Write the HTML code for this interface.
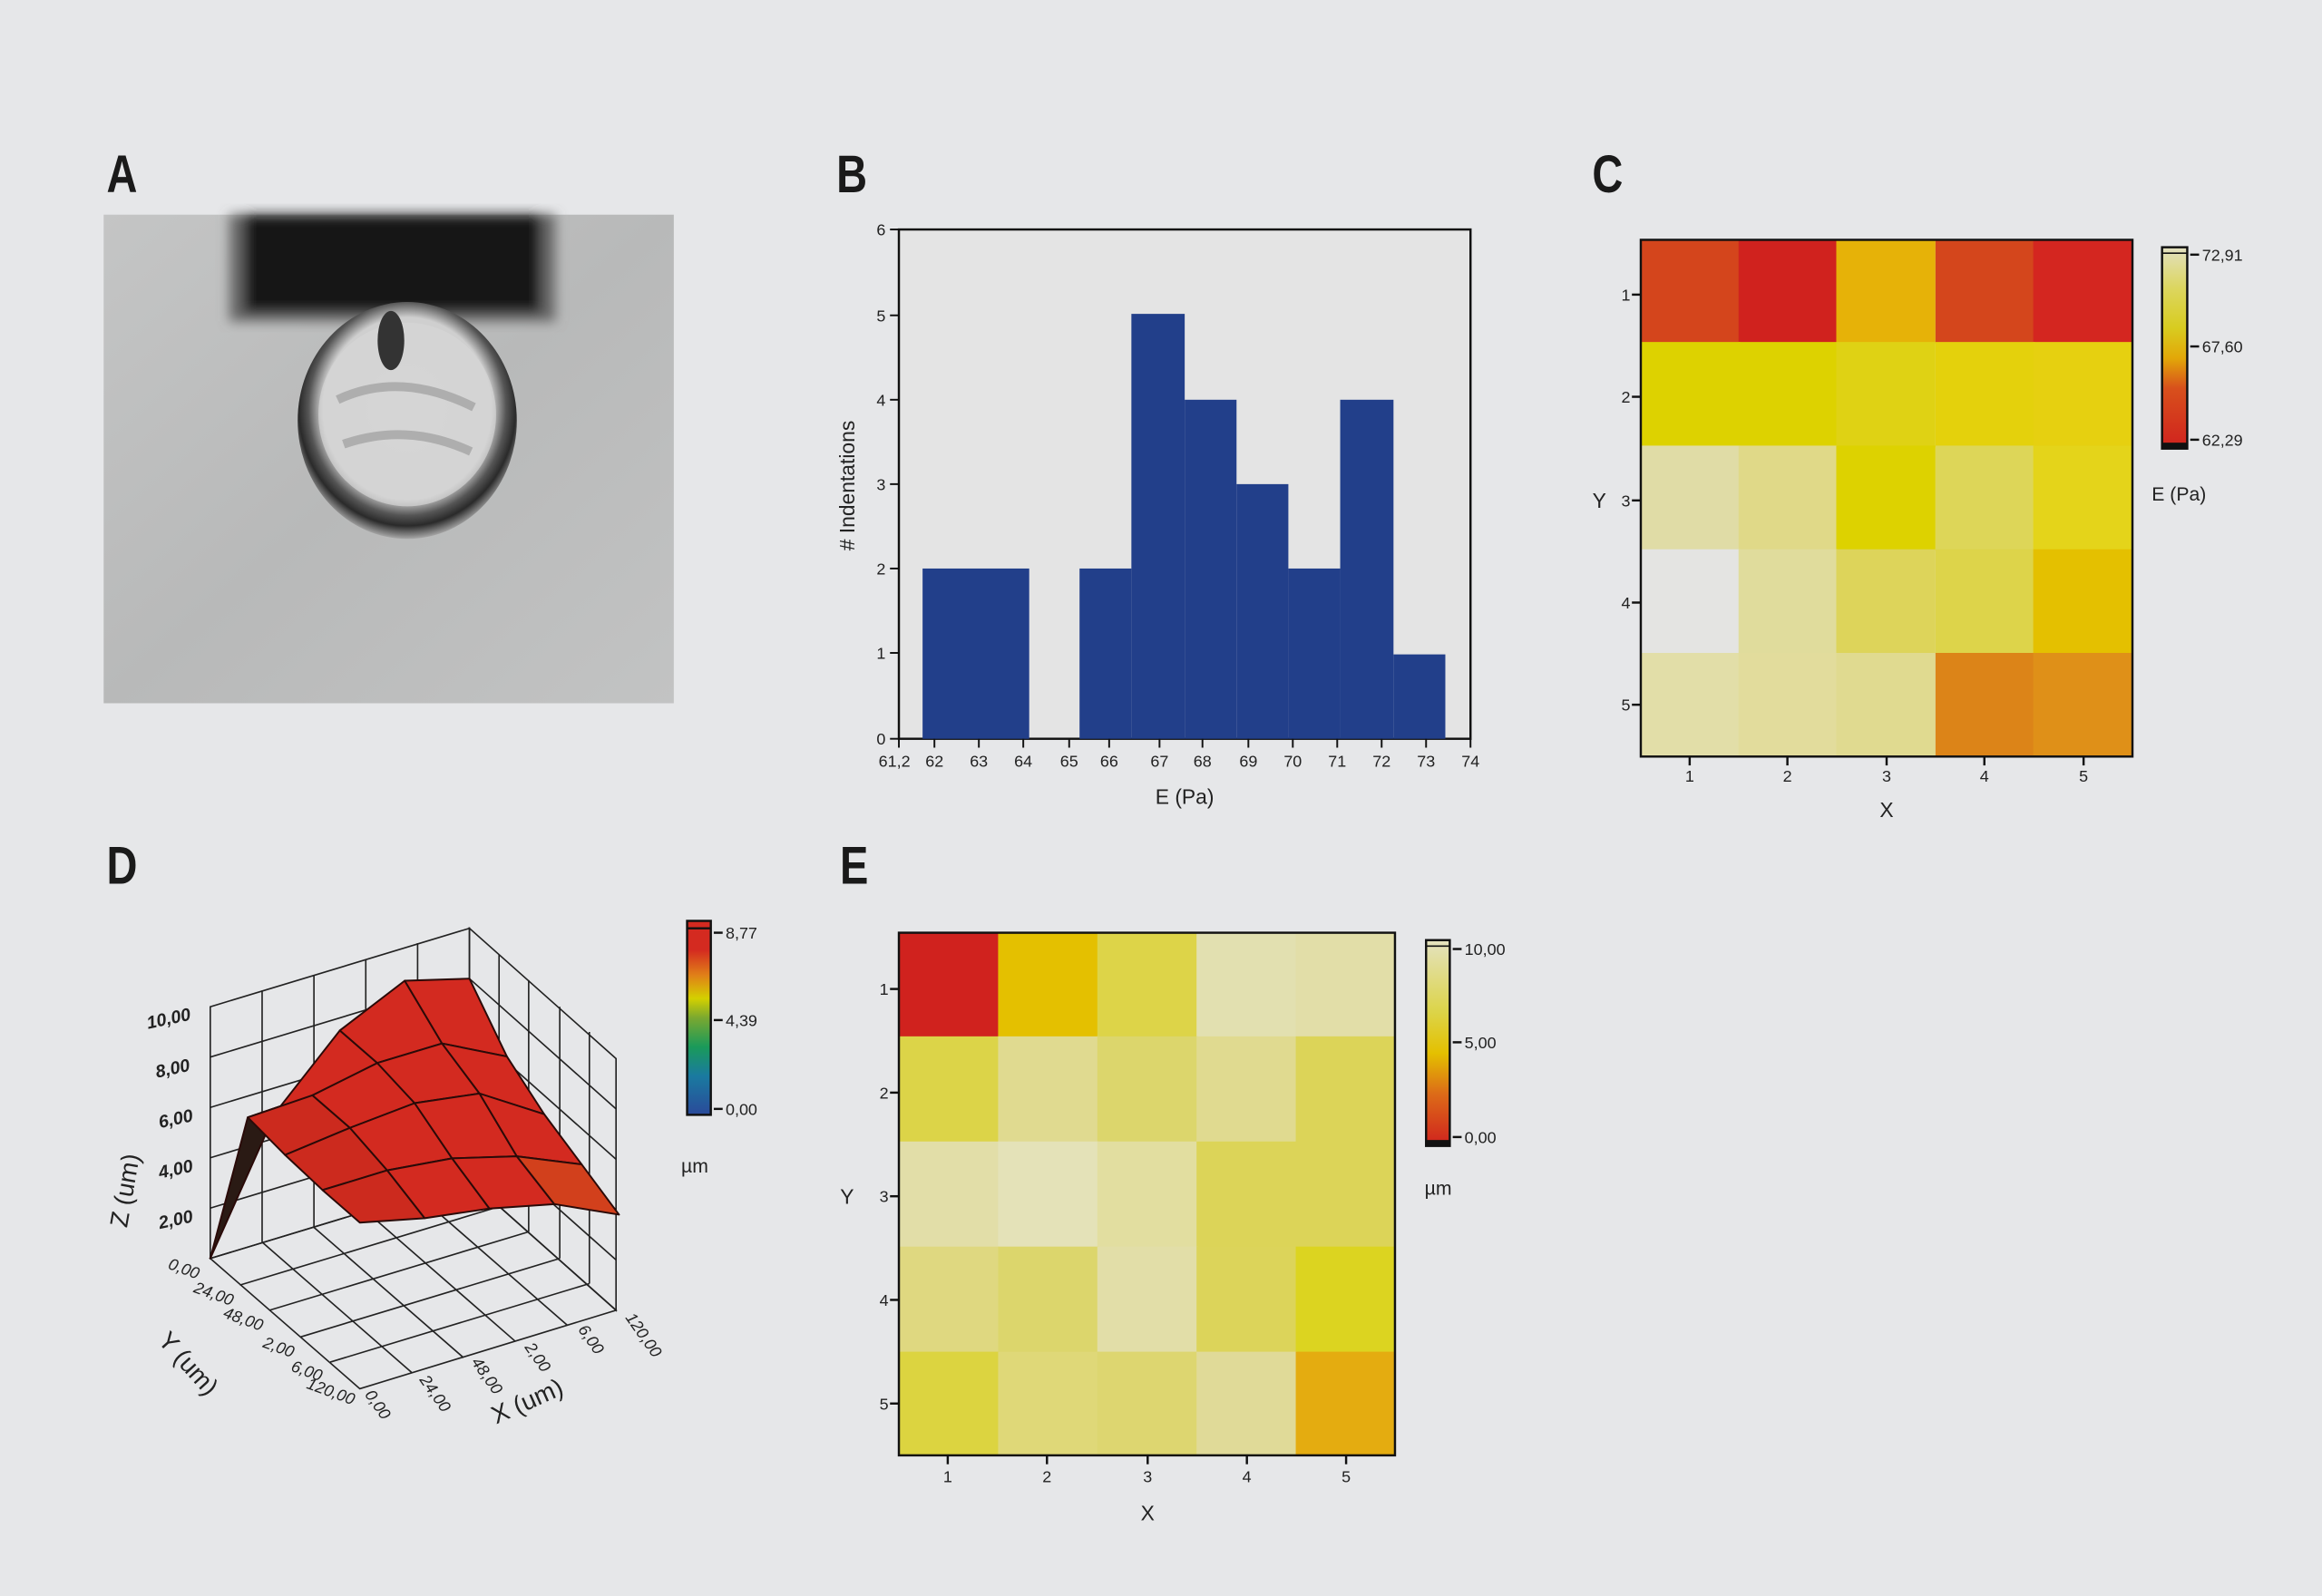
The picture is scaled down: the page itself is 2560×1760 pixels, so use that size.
<!DOCTYPE html>
<html><head><meta charset="utf-8"><style>
html,body{margin:0;padding:0;background:#e6e7e9;}
svg{display:block}
text{font-family:"Liberation Sans",sans-serif;fill:#222}
.lab{font-family:"Liberation Sans Narrow","Liberation Sans",sans-serif;font-weight:bold;font-size:36px;fill:#1a1a1a}
.t{font-size:11px}
.ax{font-size:14px}
</style></head><body>
<svg width="2560" height="1760" viewBox="0 0 1568 1078" xmlns="http://www.w3.org/2000/svg">
<defs>
<radialGradient id="cell" cx="0.5" cy="0.45" r="0.55">
<stop offset="0" stop-color="#d4d4d4"/><stop offset="0.7" stop-color="#cfcfcf"/><stop offset="0.82" stop-color="#555"/><stop offset="0.9" stop-color="#2a2a2a"/><stop offset="1" stop-color="#a8a8a8"/>
</radialGradient>
<linearGradient id="bgA" x1="0" y1="0" x2="1" y2="1"><stop offset="0" stop-color="#c4c5c5"/><stop offset="0.5" stop-color="#b8b9b9"/><stop offset="1" stop-color="#c2c3c3"/></linearGradient>
<linearGradient id="cbC" x1="0" y1="1" x2="0" y2="0"><stop offset="0" stop-color="#d0221e"/><stop offset="0.3" stop-color="#d8501c"/><stop offset="0.45" stop-color="#e2a808"/><stop offset="0.6" stop-color="#d8cc20"/><stop offset="0.8" stop-color="#dcd660"/><stop offset="1" stop-color="#e2e0c0"/></linearGradient>
<linearGradient id="cbE" x1="0" y1="1" x2="0" y2="0"><stop offset="0" stop-color="#d0221e"/><stop offset="0.25" stop-color="#dc6a18"/><stop offset="0.45" stop-color="#e4c000"/><stop offset="0.65" stop-color="#dcd448"/><stop offset="1" stop-color="#e4e2c0"/></linearGradient>
<linearGradient id="cbD" x1="0" y1="1" x2="0" y2="0"><stop offset="0" stop-color="#2a4a9a"/><stop offset="0.2" stop-color="#1a7aa0"/><stop offset="0.35" stop-color="#1a9a5a"/><stop offset="0.5" stop-color="#7aa830"/><stop offset="0.6" stop-color="#d4d000"/><stop offset="0.72" stop-color="#e08018"/><stop offset="0.85" stop-color="#d42a20"/><stop offset="1" stop-color="#d42a20"/></linearGradient>
<filter id="blur"><feGaussianBlur stdDeviation="4"/></filter>
</defs>
<rect width="1568" height="1078" fill="#e6e7e9"/>
<g transform="scale(0.8,1)">
<text class="lab" x="90" y="130">A</text>
<text class="lab" x="706" y="130">B</text>
<text class="lab" x="1344" y="130">C</text>
<text class="lab" x="90" y="597">D</text>
<text class="lab" x="709" y="597">E</text>
</g>

<!-- A -->
<rect x="70" y="145" width="385" height="330" fill="url(#bgA)"/>
<g filter="url(#blur)">
<rect x="155" y="145" width="220" height="72" fill="#666"/>
<rect x="165" y="145" width="200" height="66" fill="#151515"/>
</g>
<ellipse cx="275" cy="284" rx="74" ry="80" fill="url(#cell)"/>
<ellipse cx="275" cy="280" rx="60" ry="62" fill="#d6d6d6" opacity="0.7"/>
<path d="M228,270 Q270,250 320,275 M232,300 Q275,285 318,305" stroke="#888" stroke-width="6" fill="none" opacity="0.5"/>
<ellipse cx="264" cy="230" rx="9" ry="20" fill="#333"/>

<!-- B -->
<rect x="607" y="155" width="386" height="344" fill="#e4e4e4" stroke="#111" stroke-width="1.5"/>
<g fill="#223f8a">
<rect x="623" y="384" width="72" height="115"/>
<rect x="729" y="384" width="35" height="115"/>
<rect x="764" y="212" width="36" height="287"/>
<rect x="800" y="270" width="35" height="229"/>
<rect x="835" y="327" width="35" height="172"/>
<rect x="870" y="384" width="35" height="115"/>
<rect x="905" y="270" width="36" height="229"/>
<rect x="941" y="442" width="35" height="57"/>
</g>
<g stroke="#111" stroke-width="1.2">
<line x1="601" y1="499" x2="607" y2="499"/><line x1="601" y1="441" x2="607" y2="441"/><line x1="601" y1="384" x2="607" y2="384"/><line x1="601" y1="327" x2="607" y2="327"/><line x1="601" y1="270" x2="607" y2="270"/><line x1="601" y1="213" x2="607" y2="213"/><line x1="601" y1="155" x2="607" y2="155"/>
<line x1="607" y1="499" x2="607" y2="505"/><line x1="631" y1="499" x2="631" y2="505"/><line x1="661" y1="499" x2="661" y2="505"/><line x1="691" y1="499" x2="691" y2="505"/><line x1="722" y1="499" x2="722" y2="505"/><line x1="749" y1="499" x2="749" y2="505"/><line x1="783" y1="499" x2="783" y2="505"/><line x1="812" y1="499" x2="812" y2="505"/><line x1="843" y1="499" x2="843" y2="505"/><line x1="873" y1="499" x2="873" y2="505"/><line x1="903" y1="499" x2="903" y2="505"/><line x1="933" y1="499" x2="933" y2="505"/><line x1="963" y1="499" x2="963" y2="505"/><line x1="993" y1="499" x2="993" y2="505"/>
</g>
<g class="t" text-anchor="end"><text x="598" y="503">0</text><text x="598" y="445">1</text><text x="598" y="388">2</text><text x="598" y="331">3</text><text x="598" y="274">4</text><text x="598" y="217">5</text><text x="598" y="159">6</text></g>
<g class="t" text-anchor="middle"><text x="604" y="518">61,2</text><text x="631" y="518">62</text><text x="661" y="518">63</text><text x="691" y="518">64</text><text x="722" y="518">65</text><text x="749" y="518">66</text><text x="783" y="518">67</text><text x="812" y="518">68</text><text x="843" y="518">69</text><text x="873" y="518">70</text><text x="903" y="518">71</text><text x="933" y="518">72</text><text x="963" y="518">73</text><text x="993" y="518">74</text></g>
<text class="ax" x="800" y="543" text-anchor="middle">E (Pa)</text>
<text class="ax" transform="translate(577,328) rotate(-90)" text-anchor="middle"># Indentations</text>

<!-- C -->
<g>
<rect x="1108" y="162" width="67" height="70" fill="#d4451c"/><rect x="1174" y="162" width="67" height="70" fill="#d0221e"/><rect x="1240" y="162" width="67" height="70" fill="#e6b208"/><rect x="1307" y="162" width="67" height="70" fill="#d4461c"/><rect x="1373" y="162" width="67" height="70" fill="#d42620"/>
<rect x="1108" y="231" width="67" height="71" fill="#ddd200"/><rect x="1174" y="231" width="67" height="71" fill="#ddd200"/><rect x="1240" y="231" width="67" height="71" fill="#dfd214"/><rect x="1307" y="231" width="67" height="71" fill="#e4d10c"/><rect x="1373" y="231" width="67" height="71" fill="#e6d010"/>
<rect x="1108" y="301" width="67" height="71" fill="#e0dca6"/><rect x="1174" y="301" width="67" height="71" fill="#e0d988"/><rect x="1240" y="301" width="67" height="71" fill="#ddd200"/><rect x="1307" y="301" width="67" height="71" fill="#ddd658"/><rect x="1373" y="301" width="67" height="71" fill="#e4d41a"/>
<rect x="1108" y="371" width="67" height="71" fill="#e4e4e2"/><rect x="1174" y="371" width="67" height="71" fill="#e0dc9c"/><rect x="1240" y="371" width="67" height="71" fill="#ddd45a"/><rect x="1307" y="371" width="67" height="71" fill="#ddd44a"/><rect x="1373" y="371" width="67" height="71" fill="#e4c000"/>
<rect x="1108" y="441" width="67" height="70" fill="#e2dea8"/><rect x="1174" y="441" width="67" height="70" fill="#e2dc9c"/><rect x="1240" y="441" width="67" height="70" fill="#e0da90"/><rect x="1307" y="441" width="67" height="70" fill="#dc8418"/><rect x="1373" y="441" width="67" height="70" fill="#df9018"/>
<rect x="1108" y="162" width="332" height="349" fill="none" stroke="#111" stroke-width="1.5"/>
</g>
<g stroke="#111" stroke-width="1.5">
<line x1="1102" y1="199" x2="1108" y2="199"/><line x1="1102" y1="268" x2="1108" y2="268"/><line x1="1102" y1="338" x2="1108" y2="338"/><line x1="1102" y1="407" x2="1108" y2="407"/><line x1="1102" y1="476" x2="1108" y2="476"/>
<line x1="1141" y1="511" x2="1141" y2="517"/><line x1="1207" y1="511" x2="1207" y2="517"/><line x1="1274" y1="511" x2="1274" y2="517"/><line x1="1340" y1="511" x2="1340" y2="517"/><line x1="1407" y1="511" x2="1407" y2="517"/>
</g>
<g class="t" text-anchor="end"><text x="1101" y="203">1</text><text x="1101" y="272">2</text><text x="1101" y="342">3</text><text x="1101" y="411">4</text><text x="1101" y="480">5</text></g>
<g class="t" text-anchor="middle"><text x="1141" y="528">1</text><text x="1207" y="528">2</text><text x="1274" y="528">3</text><text x="1340" y="528">4</text><text x="1407" y="528">5</text></g>
<text class="ax" x="1274" y="552" text-anchor="middle">X</text>
<text class="ax" x="1080" y="343" text-anchor="middle">Y</text>
<rect x="1460" y="167" width="17" height="136" fill="url(#cbC)" stroke="#111" stroke-width="1.5"/>
<rect x="1460" y="299" width="17" height="4" fill="#111"/>
<line x1="1460" y1="171" x2="1477" y2="171" stroke="#111"/>
<g stroke="#111" stroke-width="1.5"><line x1="1479" y1="172" x2="1485" y2="172"/><line x1="1479" y1="234" x2="1485" y2="234"/><line x1="1479" y1="297" x2="1485" y2="297"/></g>
<g class="t"><text x="1487" y="176">72,91</text><text x="1487" y="238">67,60</text><text x="1487" y="301">62,29</text></g>
<text class="ax" x="1453" y="338" style="font-size:13px">E (Pa)</text>

<!-- E -->
<g>
<rect x="607" y="630" width="68" height="71" fill="#d0221e"/><rect x="674" y="630" width="68" height="71" fill="#e4c000"/><rect x="741" y="630" width="68" height="71" fill="#ddd448"/><rect x="808" y="630" width="68" height="71" fill="#e2e0b0"/><rect x="875" y="630" width="67" height="71" fill="#e2dea8"/>
<rect x="607" y="700" width="68" height="72" fill="#dcd448"/><rect x="674" y="700" width="68" height="72" fill="#e0da90"/><rect x="741" y="700" width="68" height="72" fill="#dcd66c"/><rect x="808" y="700" width="68" height="72" fill="#e0da90"/><rect x="875" y="700" width="67" height="72" fill="#dcd458"/>
<rect x="607" y="771" width="68" height="72" fill="#e2dea8"/><rect x="674" y="771" width="68" height="72" fill="#e4e2b8"/><rect x="741" y="771" width="68" height="72" fill="#e2dea0"/><rect x="808" y="771" width="68" height="72" fill="#dcd458"/><rect x="875" y="771" width="67" height="72" fill="#dcd458"/>
<rect x="607" y="842" width="68" height="72" fill="#dfd880"/><rect x="674" y="842" width="68" height="72" fill="#dcd66c"/><rect x="741" y="842" width="68" height="72" fill="#e2dea8"/><rect x="808" y="842" width="68" height="72" fill="#dcd45a"/><rect x="875" y="842" width="67" height="72" fill="#dcd420"/>
<rect x="607" y="913" width="68" height="70" fill="#dcd440"/><rect x="674" y="913" width="68" height="70" fill="#dfd878"/><rect x="741" y="913" width="68" height="70" fill="#ddd670"/><rect x="808" y="913" width="68" height="70" fill="#e0da98"/><rect x="875" y="913" width="67" height="70" fill="#e4ac10"/>
<rect x="607" y="630" width="335" height="353" fill="none" stroke="#111" stroke-width="1.5"/>
</g>
<g stroke="#111" stroke-width="1.5">
<line x1="601" y1="668" x2="607" y2="668"/><line x1="601" y1="738" x2="607" y2="738"/><line x1="601" y1="808" x2="607" y2="808"/><line x1="601" y1="878" x2="607" y2="878"/><line x1="601" y1="948" x2="607" y2="948"/>
<line x1="640" y1="983" x2="640" y2="989"/><line x1="707" y1="983" x2="707" y2="989"/><line x1="775" y1="983" x2="775" y2="989"/><line x1="842" y1="983" x2="842" y2="989"/><line x1="909" y1="983" x2="909" y2="989"/>
</g>
<g class="t" text-anchor="end"><text x="600" y="672">1</text><text x="600" y="742">2</text><text x="600" y="812">3</text><text x="600" y="882">4</text><text x="600" y="952">5</text></g>
<g class="t" text-anchor="middle"><text x="640" y="1001">1</text><text x="707" y="1001">2</text><text x="775" y="1001">3</text><text x="842" y="1001">4</text><text x="909" y="1001">5</text></g>
<text class="ax" x="775" y="1027" text-anchor="middle">X</text>
<text class="ax" x="572" y="813" text-anchor="middle">Y</text>
<rect x="963" y="635" width="16" height="139" fill="url(#cbE)" stroke="#111" stroke-width="1.5"/>
<rect x="963" y="770" width="16" height="4" fill="#111"/>
<line x1="963" y1="639" x2="979" y2="639" stroke="#111"/>
<g stroke="#111" stroke-width="1.5"><line x1="981" y1="641" x2="987" y2="641"/><line x1="981" y1="704" x2="987" y2="704"/><line x1="981" y1="768" x2="987" y2="768"/></g>
<g class="t"><text x="989" y="645">10,00</text><text x="989" y="708">5,00</text><text x="989" y="772">0,00</text></g>
<text class="ax" x="962" y="807" style="font-size:13px">µm</text>

<!-- D colorbar -->
<rect x="464" y="622" width="16" height="131" fill="url(#cbD)" stroke="#111" stroke-width="1.5"/>
<line x1="464" y1="627" x2="480" y2="627" stroke="#111" stroke-width="1.5"/>
<g stroke="#111" stroke-width="1.5"><line x1="482" y1="630" x2="488" y2="630"/><line x1="482" y1="689" x2="488" y2="689"/><line x1="482" y1="749" x2="488" y2="749"/></g>
<g class="t"><text x="490" y="634">8,77</text><text x="490" y="693">4,39</text><text x="490" y="753">0,00</text></g>
<text class="ax" x="460" y="792" style="font-size:13px">µm</text>

<!-- D 3D -->
<g id="d3" stroke="#222" stroke-width="1" fill="none">
<polygon points="142,850 243,938 416,885 317,797"/>
<line x1="177" y1="839" x2="278" y2="927"/><line x1="212" y1="829" x2="313" y2="917"/><line x1="247" y1="818" x2="348" y2="906"/><line x1="282" y1="807" x2="383" y2="895"/>
<line x1="162" y1="868" x2="337" y2="815"/><line x1="182" y1="885" x2="357" y2="832"/><line x1="203" y1="903" x2="378" y2="850"/><line x1="223" y1="920" x2="398" y2="867"/>
<polygon points="142,850 317,797 317,627 142,680"/>
<line x1="142" y1="816" x2="317" y2="763"/><line x1="142" y1="782" x2="317" y2="729"/><line x1="142" y1="748" x2="317" y2="695"/><line x1="142" y1="714" x2="317" y2="661"/>
<line x1="177" y1="839" x2="177" y2="669"/><line x1="212" y1="829" x2="212" y2="659"/><line x1="247" y1="818" x2="247" y2="648"/><line x1="282" y1="807" x2="282" y2="637"/>
<polygon points="317,797 416,885 416,715 317,627"/>
<line x1="317" y1="763" x2="416" y2="851"/><line x1="317" y1="729" x2="416" y2="817"/><line x1="317" y1="695" x2="416" y2="783"/><line x1="317" y1="661" x2="416" y2="749"/>
<line x1="337" y1="815" x2="337" y2="645"/><line x1="357" y1="832" x2="357" y2="662"/><line x1="378" y1="850" x2="378" y2="680"/><line x1="398" y1="867" x2="398" y2="697"/>
</g>
<g id="surf" stroke="#2a0a08" stroke-width="1.2" stroke-linejoin="round"></g>
<g style="font-size:12px;font-style:italic;font-weight:bold" fill="#222">
<text transform="translate(100,695) rotate(-12)">10,00</text>
<text transform="translate(106,728) rotate(-12)">8,00</text>
<text transform="translate(108,762) rotate(-12)">6,00</text>
<text transform="translate(108,796) rotate(-12)">4,00</text>
<text transform="translate(108,830) rotate(-12)">2,00</text>
</g>
<g style="font-size:11px;font-style:italic" fill="#222" text-anchor="end">
<text transform="translate(133,864) rotate(20)">0,00</text>
<text transform="translate(156,882) rotate(20)">24,00</text>
<text transform="translate(176,899) rotate(20)">48,00</text>
<text transform="translate(197,917) rotate(20)">2,00</text>
<text transform="translate(216,933) rotate(20)">6,00</text>
<text transform="translate(238,949) rotate(20)">120,00</text>
</g>
<g style="font-size:11px;font-style:italic" fill="#222">
<text transform="translate(246,942) rotate(55)">0,00</text>
<text transform="translate(283,932) rotate(55)">24,00</text>
<text transform="translate(318,920) rotate(55)">48,00</text>
<text transform="translate(354,910) rotate(55)">2,00</text>
<text transform="translate(390,898) rotate(55)">6,00</text>
<text transform="translate(422,890) rotate(55)">120,00</text>
</g>
<text class="ax" transform="translate(90,805) rotate(-80)" text-anchor="middle" style="font-size:17px">Z (um)</text>
<text class="ax" transform="translate(106,906) rotate(48)" style="font-size:17px">Y (um)</text>
<text class="ax" transform="translate(335,962) rotate(-24)" style="font-size:17px">X (um)</text>
</svg>
<script>
(function(){
var H=[[0,5,7.5,8.7,8],[6.9,7,7.5,7.5,6.2],[6.7,7,7.2,6.8,5.2],[6.6,6.6,6.3,5.6,4.5],[6.6,6,5.6,5,3.8]];
function P(x,y,z){return [142+175*x+101*y,850-53*x+88*y-17*z];}
var g=document.getElementById('surf'),s='';
for(var j=0;j<4;j++)for(var i=0;i<4;i++){
 var a=P(i/4,j/4,H[j][i]),b=P((i+1)/4,j/4,H[j][i+1]),c=P((i+1)/4,(j+1)/4,H[j+1][i+1]),d=P(i/4,(j+1)/4,H[j+1][i]);
 var col=(i==0&&j==0)?'#2a1a14':(j==3&&i==3?'#d2401c':'#d32a20');
 if(i==0&&j>0)col='#cc2a1e';
 s+='<polygon fill="'+col+'" points="'+[a,b,c,d].map(function(p){return p[0].toFixed(1)+','+p[1].toFixed(1)}).join(' ')+'"/>';
}
g.innerHTML=s;
})();
</script>
</body></html>
